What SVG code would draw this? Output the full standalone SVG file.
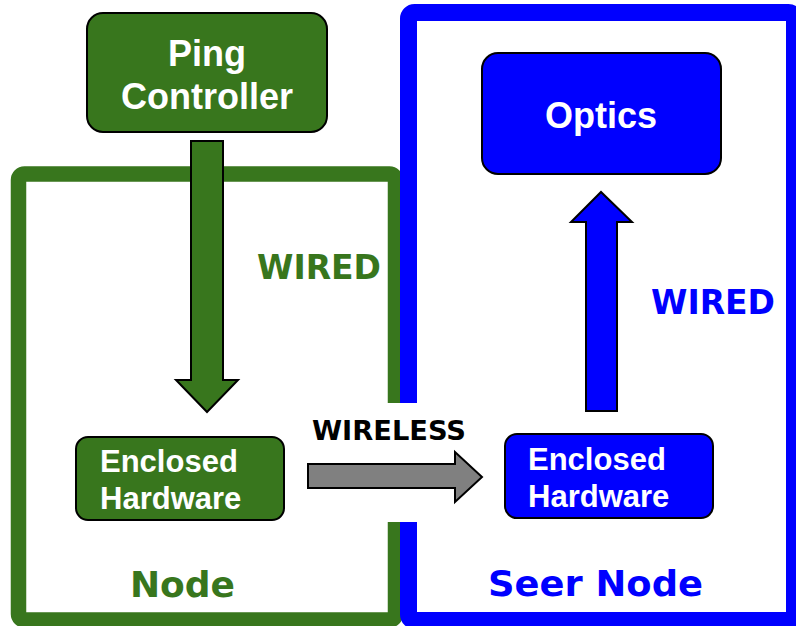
<svg xmlns="http://www.w3.org/2000/svg" width="796" height="626" viewBox="0 0 796 626">
<style>
.lbl{font-family:"Liberation Sans",Arial,sans-serif;font-weight:bold;fill:#fff}
.v{font-family:"DejaVu Sans",Verdana,sans-serif;font-weight:bold}
.g{fill:#38761d}
.b{fill:#0000ff}
.box{stroke:#000;stroke-width:2}
.arr{stroke:#000;stroke-width:2;stroke-linejoin:miter}
</style>
<rect width="796" height="626" fill="#fff"/>
<g id="frames">
<rect id="node-frame" x="18.5" y="174" width="377" height="446" rx="6" fill="none" stroke="#38761d" stroke-width="15.5"/>
<rect id="seer-frame" x="408.5" y="12.5" width="386" height="608" rx="6" fill="none" stroke="#0000ff" stroke-width="17"/>
<rect x="385" y="403" width="35" height="119" fill="#fff"/>
</g>
<g id="connectors">
<polygon class="arr g" points="191,141 223,141 223,380 238,380 207,412 176,380 191,380"/>
<polygon class="arr b" points="586,411 617,411 617,222 632,222 601,192 571,222 586,222"/>
<polygon class="arr" fill="#808080" points="308,464 455,464 455,452 482,477 455,502 455,488 308,488"/>
</g>
<g id="ping-controller">
<rect class="box g" x="87" y="13" width="240" height="119" rx="16"/>
<text class="lbl" font-size="36" text-anchor="middle" x="207" y="66">Ping</text>
<text class="lbl" font-size="36" text-anchor="middle" x="207" y="109">Controller</text>
</g>
<g id="optics">
<rect class="box b" x="482" y="53" width="239" height="121" rx="16"/>
<text class="lbl" font-size="36" text-anchor="middle" x="601" y="128">Optics</text>
</g>
<g id="enclosed-hw-node">
<rect class="box g" x="76" y="437" width="208" height="83" rx="12"/>
<text class="lbl" font-size="31" x="100" y="472">Enclosed</text>
<text class="lbl" font-size="31" x="100" y="509">Hardware</text>
</g>
<g id="enclosed-hw-seer">
<rect class="box b" x="505" y="434" width="208" height="84" rx="12"/>
<text class="lbl" font-size="31" x="528" y="470">Enclosed</text>
<text class="lbl" font-size="31" x="528" y="507">Hardware</text>
</g>
<g id="labels">
<text class="v g" font-size="33" x="257" y="279" textLength="124" lengthAdjust="spacingAndGlyphs">WIRED</text>
<text class="v b" font-size="33" x="651" y="314" textLength="124" lengthAdjust="spacingAndGlyphs">WIRED</text>
<text class="v" font-size="26" x="312" y="440" fill="#000" textLength="154" lengthAdjust="spacingAndGlyphs">WIRELESS</text>
<text class="v g" font-size="36" x="130" y="597" textLength="105" lengthAdjust="spacingAndGlyphs">Node</text>
<text class="v b" font-size="36" x="488" y="596" textLength="215" lengthAdjust="spacingAndGlyphs">Seer Node</text>
</g>
</svg>
